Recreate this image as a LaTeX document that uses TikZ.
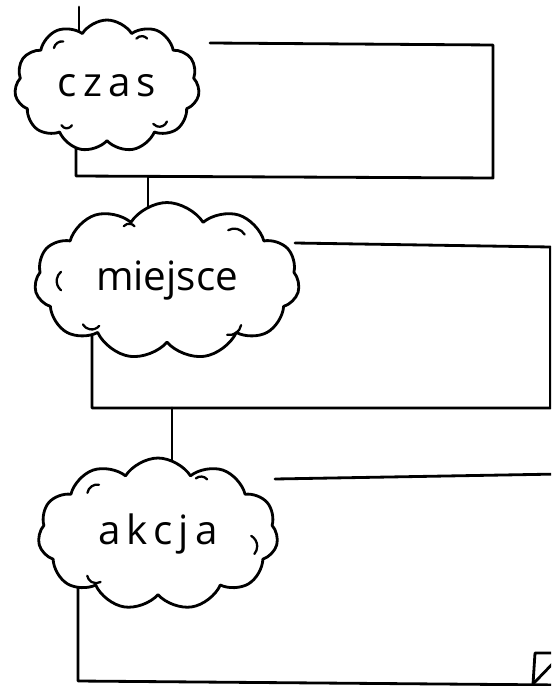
\documentclass[tikz,border=0pt]{standalone}
\usepackage{fontspec}
\newfontfamily\handfont{Open Sans}
\usetikzlibrary{positioning, shapes.symbols, backgrounds, calc}

\begin{document}
\begin{tikzpicture}[
                x=0.02cm, y=-0.02cm,
                pen/.style={line width=1.6pt, line cap=round, line join=round},
                puff/.style={cloud, draw, pen, fill=white, cloud puffs=11, cloud puff arc=115,
                    cloud ignores aspect, inner sep=0pt, font=\handfont\fontsize{23}{27}\selectfont},
                wide/.style={font=\handfont\fontsize{23}{27}\selectfont\addfontfeature{LetterSpace=15}},
                crease/.style={pen, line width=1.3pt},
            ]
            \useasboundingbox (0,0) rectangle (551,686);

            % === clouds ===
            \node[puff, wide, minimum width=3.7cm, minimum height=2.64cm] (czas) at (107,86) {czas};
            \node[puff, minimum width=5.3cm, minimum height=3.14cm] (miejsce) at (167,281) {miejsce};
            \node[puff, wide, minimum width=4.8cm, minimum height=3.04cm] (akcja) at (158,534) {akcja};

            % === little strokes inside the clouds ===
            \foreach \n/\d/\a/\b/\r in {czas/141/190/280/8, czas/51/220/320/7, czas/222/30/150/6, czas/328/20/140/8,
                                      miejsce/180/130/230/12, miejsce/127/220/320/7, miejsce/31/240/330/12,
                                      miejsce/207/40/150/10, miejsce/326/10/100/12,
                                      akcja/147/190/280/10, akcja/49/230/320/8, akcja/352/-60/40/12, akcja/213/60/170/9} {
                \draw[crease] ($(\n.center)!0.74!(\n.\d)+(\a:\r)$) arc[start angle=\a, end angle=\b, radius=\r];
            }

            % === frames ===
            \coordinate (top) at (79,7);
            \coordinate (b1a) at (210,43);
            \coordinate (b1b) at (493,45);
            \coordinate (b1c) at (493,178);
            \coordinate (b1d) at (76,176);
            \coordinate (j1) at (148,177);

            \coordinate (b2a) at (295,243);
            \coordinate (b2b) at (550.5,247);
            \coordinate (b2c) at (550.5,408);
            \coordinate (b2d) at (92,408);
            \coordinate (j2) at (172,408);

            \coordinate (b3a) at (275,479);
            \coordinate (b3b) at (560,474);
            \coordinate (b3c) at (560,685);
            \coordinate (b3d) at (78,681);
            \coordinate (t1) at (560,653);
            \coordinate (t2) at (535,653);
            \coordinate (t3) at (533,684);
            \coordinate (t4) at (560,656);

            \begin{scope}[on background layer]
                \fill[white] (0,0) rectangle (551,686);
                \clip (0,0) rectangle (551,686);
                \draw[pen] (top) -- (top |- czas.center);
                \draw[pen] (b1a) -- (b1b) -- (b1c) -- (b1d) -- (b1d |- czas.center);
                \draw[pen] (j1) -- (j1 |- miejsce.center);
                \draw[pen] (b2a) -- (b2b) -- (b2c) -- (b2d) -- (b2d |- miejsce.center);
                \draw[pen] (j2) -- (j2 |- akcja.center);
                \draw[pen] (b3a) -- (b3b);
                \draw[pen] (b3c) -- (b3d) -- (b3d |- akcja.center);
                \draw[pen] (t1) -- (t2) -- (t3) -- (t4);
            \end{scope}
            \end{tikzpicture}
\end{document}
